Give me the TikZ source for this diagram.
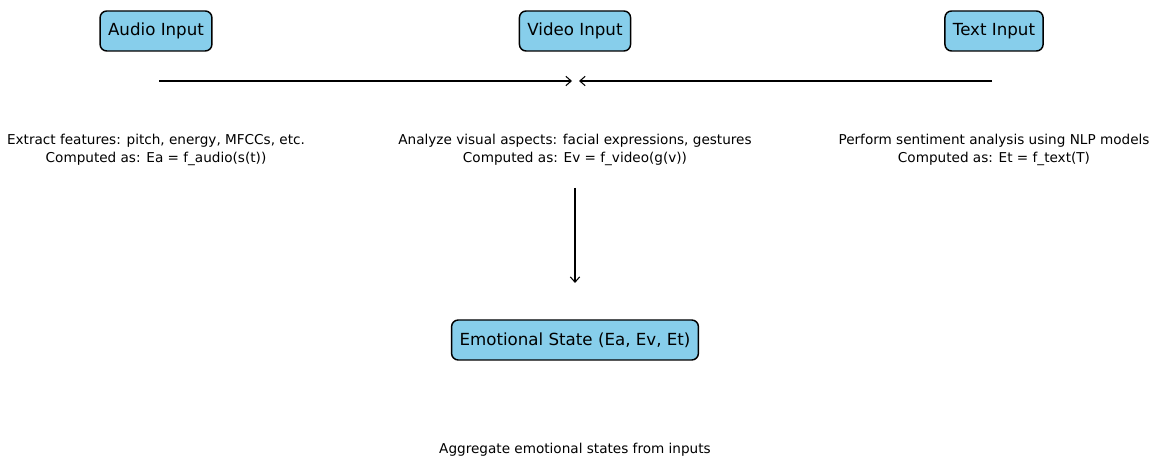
\documentclass[tikz,border=0pt]{standalone}
\usepackage{fontspec}
\setmainfont{DejaVu Sans}
\usetikzlibrary{arrows.meta}
\definecolor{skyblue}{HTML}{87CEEB}
\begin{document}
\begin{tikzpicture}[x=0.75pt, y=-0.75pt,
    inputbox/.style={draw, line width=1.1pt, rounded corners=5pt, fill=skyblue,
        font=\fontsize{12.5}{15}\selectfont, minimum height=30pt, inner xsep=6pt},
    desc/.style={align=center, font=\fontsize{10.2}{13.5}\selectfont},
    flow/.style={-{Straight Barb[length=4pt,width=7pt]}, thick}]
        \useasboundingbox (0,0) rectangle (1156,459);

        % input boxes
        \node[inputbox] (audio) at (156,31) {Audio Input};
        \node[inputbox] (video) at (575,31) {Video Input};
        \node[inputbox] (text) at (994,31) {Text Input};

        % descriptions
        \node[desc] (audiodesc) at (156,150) {Extract features: pitch, energy, MFCCs, etc.\\Computed as: Ea = f\_audio(s(t))};
        \node[desc] (videodesc) at (575,150) {Analyze visual aspects: facial expressions, gestures\\Computed as: Ev = f\_video(g(v))};
        \node[desc] (textdesc) at (994,150) {Perform sentiment analysis using NLP models\\Computed as: Et = f\_text(T)};

        % output
        \node[inputbox] (state) at (575,340) {Emotional State (Ea, Ev, Et)};
        \node[desc] (aggdesc) at (575,450) {Aggregate emotional states from inputs};

        % arrows
        \coordinate (a1) at (159,81);
        \coordinate (a2) at (572,81);
        \coordinate (t1) at (992,81);
        \coordinate (t2) at (579,81);
        \coordinate (v1) at (575,188);
        \coordinate (v2) at (575,283);
        \draw[flow] (a1) -- (a2);
        \draw[flow] (t1) -- (t2);
        \draw[flow] (v1) -- (v2);
\end{tikzpicture}
\end{document}
